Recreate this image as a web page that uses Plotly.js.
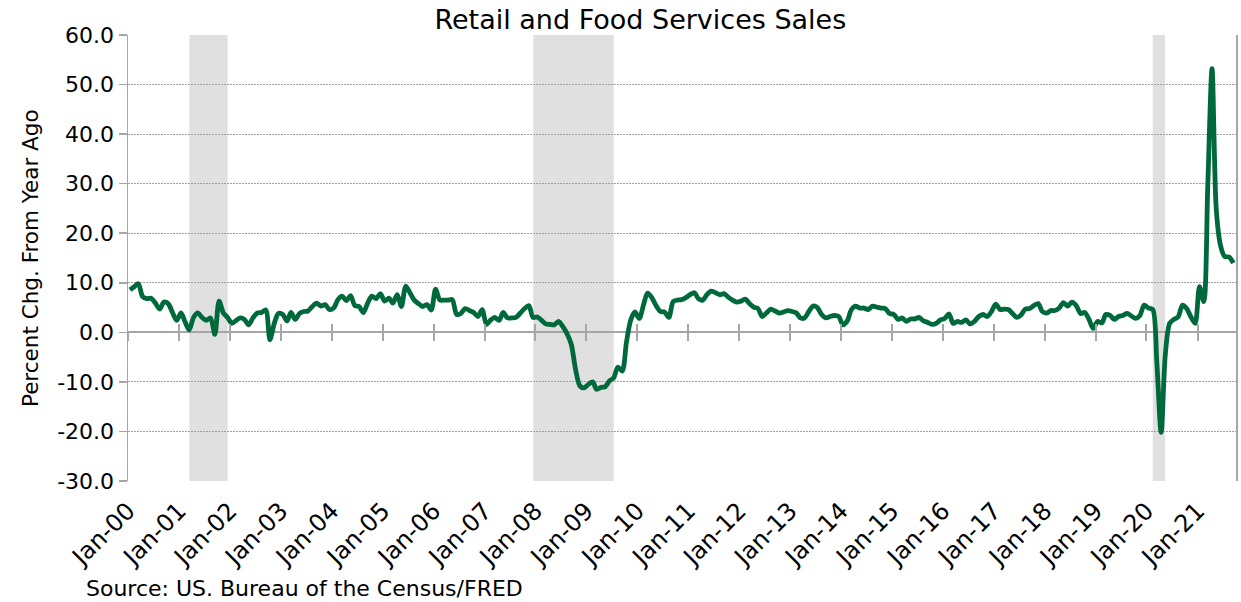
<!DOCTYPE html>
<html>
<head>
<meta charset="utf-8">
<script src="https://cdn.plot.ly/plotly-3.0.1.min.js"></script>
<style>
  html, body { margin: 0; padding: 0; background: #ffffff; }
  #chart { width: 1241px; height: 602px; }
</style>
</head>
<body>
<div id="chart"></div>
<script>
// Retail and Food Services Sales, percent change from year ago, monthly from Jan 2000
const startYear = 2000;
const yoyChange = [
  // 2000
  8.6, 9.2, 9.8, 7.2, 6.8, 6.9, 5.9, 4.7, 6.1, 5.8, 4.0, 2.4,
  // 2001
  3.9, 2.0, 0.5, 3.0, 3.9, 3.0, 2.4, 2.9, -0.4, 6.3, 3.9, 3.0,
  // 2002
  1.8, 2.4, 2.9, 2.6, 1.5, 2.9, 3.9, 4.0, 4.5, -1.5, 1.8, 3.8,
  // 2003
  3.6, 2.3, 4.0, 2.6, 3.8, 4.2, 4.3, 5.2, 5.9, 5.3, 5.6, 4.6,
  // 2004
  4.9, 6.6, 7.3, 6.4, 7.4, 5.4, 5.2, 4.0, 5.9, 7.3, 6.8, 7.8,
  // 2005
  6.3, 6.9, 5.9, 7.6, 5.2, 9.3, 8.0, 6.5, 5.8, 5.2, 5.6, 4.5,
  // 2006
  8.7, 6.5, 6.5, 6.5, 6.6, 3.6, 3.8, 4.8, 4.4, 4.0, 3.2, 4.6,
  // 2007
  1.6, 2.5, 3.0, 2.4, 4.0, 2.9, 2.9, 3.0, 3.9, 4.8, 5.4, 3.0,
  // 2008
  3.1, 2.4, 1.7, 1.6, 1.5, 2.2, 1.2, -0.3, -2.5, -7.5, -10.8, -11.2,
  // 2009
  -10.5, -10.0, -11.5, -11.1, -11.0, -9.8, -9.2, -7.0, -7.8, -2.0, 2.5, 4.1,
  // 2010
  2.8, 5.6, 7.9, 7.0, 5.4, 4.2, 4.1, 3.0, 6.2, 6.5, 6.6, 7.0,
  // 2011
  7.6, 8.0, 6.8, 6.5, 7.6, 8.3, 8.0, 7.6, 7.8, 7.1, 6.5, 6.1,
  // 2012
  6.3, 6.7, 5.8, 5.1, 4.8, 3.2, 3.9, 4.7, 4.3, 3.9, 4.1, 4.4,
  // 2013
  4.2, 3.9, 2.9, 2.9, 4.2, 5.3, 5.0, 3.6, 2.9, 3.2, 3.4, 3.2,
  // 2014
  1.5, 2.3, 4.5, 5.3, 4.9, 4.9, 4.6, 5.3, 5.1, 4.9, 4.8, 3.8,
  // 2015
  3.6, 2.6, 2.9, 2.2, 2.7, 2.7, 3.0, 2.3, 2.0, 1.6, 1.8, 2.5,
  // 2016
  2.8, 3.7, 1.8, 2.2, 2.0, 2.5, 1.7, 2.2, 3.2, 3.6, 3.2, 4.2,
  // 2017
  5.7, 4.6, 4.7, 4.6, 3.8, 3.0, 3.5, 4.7, 4.8, 5.4, 5.8, 4.2,
  // 2018
  3.9, 4.4, 4.4, 4.9, 6.0, 5.3, 6.1, 5.4, 3.8, 4.0, 2.6, 0.8,
  // 2019
  2.2, 1.9, 3.6, 3.4, 2.6, 3.2, 3.4, 3.8, 3.3, 2.8, 3.4, 5.5,
  // 2020
  4.9, 4.6, -6.0, -20.2, -4.5, 1.8, 2.6, 3.1, 5.5, 4.8, 3.1, 1.8,
  // 2021
  9.2, 6.2, 29.0, 53.2, 25.0, 17.5, 15.3, 15.2, 14.0
];

const tickDates = ['2000-01-01','2001-01-01','2002-01-01','2003-01-01','2004-01-01','2005-01-01',
  '2006-01-01','2007-01-01','2008-01-01','2009-01-01','2010-01-01','2011-01-01','2012-01-01',
  '2013-01-01','2014-01-01','2015-01-01','2016-01-01','2017-01-01','2018-01-01','2019-01-01',
  '2020-01-01','2021-01-01'];
const tickLabels = ['Jan-00','Jan-01','Jan-02','Jan-03','Jan-04','Jan-05','Jan-06','Jan-07',
  'Jan-08','Jan-09','Jan-10','Jan-11','Jan-12','Jan-13','Jan-14','Jan-15','Jan-16','Jan-17',
  'Jan-18','Jan-19','Jan-20','Jan-21'];

const yTickValues = [-30, -20, -10, 0, 10, 20, 30, 40, 50, 60];
const yTickLabels = ['-30.0', '-20.0', '-10.0', '0.0', '10.0', '20.0', '30.0', '40.0', '50.0', '60.0'];

const recessionStart = ['2001-03-16', '2007-12-17', '2020-02-15'];
const recessionEnd   = ['2001-12-16', '2009-07-16', '2020-05-13'];

const xRange = ['2000-01-01', '2021-10-04'];

const dates = yoyChange.map((v, i) => {
  const y = startYear + Math.floor(i / 12);
  const m = (i % 12) + 1;
  return y + '-' + String(m).padStart(2, '0') + '-15';
});

const FONT = 'DejaVu Sans, Verdana, sans-serif';
const AXIS_GRAY = '#a6a6a6';

const traces = [
  {
    x: dates, y: yoyChange, type: 'scatter', mode: 'lines',
    line: { color: '#00693c', width: 4.8, shape: 'spline', smoothing: 0.8 },
    hoverinfo: 'x+y', showlegend: false
  },
  { x: [dates[0]], y: [yoyChange[0]], xaxis: 'x2', type: 'scatter', mode: 'lines',
    line: { width: 0 }, hoverinfo: 'skip', showlegend: false },
  { x: [dates[0]], y: [yoyChange[0]], xaxis: 'x3', type: 'scatter', mode: 'lines',
    line: { width: 0 }, hoverinfo: 'skip', showlegend: false }
];

const shapes = recessionStart.map((s, i) => ({
  type: 'rect', xref: 'x', yref: 'paper', x0: s, x1: recessionEnd[i], y0: 0, y1: 1,
  fillcolor: '#e0e0e0', line: { width: 0 }, layer: 'below'
}));

const tickAxisBase = {
  type: 'date', range: xRange, overlaying: 'x', anchor: 'free', position: 1 / 3,
  tickmode: 'array', tickvals: tickDates, ticktext: tickLabels,
  showticklabels: false, showgrid: false, showline: false, zeroline: false,
  ticklen: 8, tickwidth: 2, tickcolor: AXIS_GRAY
};

const layout = {
  width: 1241, height: 602,
  margin: { l: 128, r: 5, t: 35, b: 121, pad: 0 },
  paper_bgcolor: '#ffffff', plot_bgcolor: '#ffffff',
  font: { family: FONT, color: '#000000' },
  title: {
    text: 'Retail and Food Services Sales',
    font: { family: FONT, size: 27, color: '#000000' },
    xref: 'container', x: 0.516, xanchor: 'center',
    yref: 'container', y: 0.968, yanchor: 'middle'
  },
  xaxis: {
    type: 'date', range: xRange,
    tickmode: 'array', tickvals: tickDates, ticktext: tickLabels,
    tickangle: -45, ticks: '', ticklabelstandoff: 10,
    showgrid: false, showline: false, zeroline: false,
    tickfont: { family: FONT, size: 24, color: '#000000' }
  },
  xaxis2: Object.assign({}, tickAxisBase, { ticks: 'outside' }),
  xaxis3: Object.assign({}, tickAxisBase, { ticks: 'inside' }),
  yaxis: {
    range: [-30, 60], tickmode: 'array', tickvals: yTickValues, ticktext: yTickLabels,
    ticks: 'outside', ticklen: 8, tickwidth: 1.5, tickcolor: AXIS_GRAY,
    showline: true, linecolor: AXIS_GRAY, linewidth: 1.5, mirror: true,
    showgrid: true, gridcolor: '#a0a0a0', gridwidth: 1, griddash: '2px,1px',
    zeroline: true, zerolinecolor: AXIS_GRAY, zerolinewidth: 2,
    tickfont: { family: FONT, size: 22, color: '#000000' }
  },
  shapes: shapes,
  annotations: [
    {
      text: 'Percent Chg. From Year Ago', xref: 'paper', yref: 'paper',
      x: -0.0884, y: 0.5, xanchor: 'center', yanchor: 'middle', textangle: -90,
      showarrow: false, font: { family: FONT, size: 21.5, color: '#000000' }
    },
    {
      text: 'Source: US. Bureau of the Census/FRED', xref: 'paper', yref: 'paper',
      x: -0.040, y: -0.24, xanchor: 'left', yanchor: 'middle',
      showarrow: false, font: { family: FONT, size: 22, color: '#000000' }
    }
  ]
};

Plotly.newPlot('chart', traces, layout, { displayModeBar: false, staticPlot: true });
</script>
</body>
</html>
